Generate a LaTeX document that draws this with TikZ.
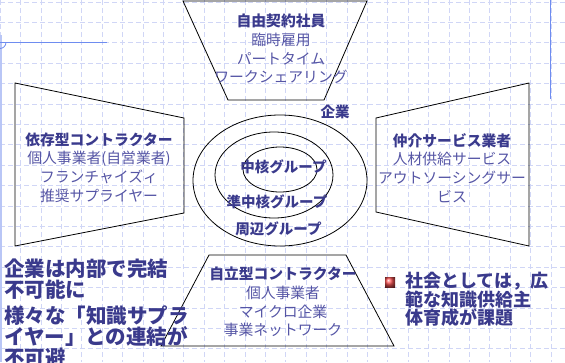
\documentclass[tikz,border=0pt]{standalone}
\usepackage{fontspec}
\setmainfont{Noto Sans CJK JP}
\newfontfamily\heavy{Noto Sans CJK JP}[UprightFont={* Black}]
\definecolor{navy}{RGB}{58,58,140}
\definecolor{regtext}{RGB}{85,85,165}
\definecolor{gridc}{RGB}{208,214,246}
\definecolor{deco}{RGB}{110,140,240}
\definecolor{decolight}{RGB}{185,198,246}
\begin{document}
\begin{tikzpicture}[x=1pt,y=-1pt,
  gridline/.style={draw=gridc,line width=0.6pt,dash pattern=on 5pt off 3pt},
  frame/.style={draw=black,line width=0.8pt},
  blk/.style={align=center,text=regtext,inner sep=0pt,font=\fontsize{14.8}{18.7}\selectfont},
  lbl/.style={text=navy,inner sep=0pt,font=\heavy\fontsize{14.5}{16}\selectfont},
  big/.style={text=navy,inner sep=0pt,align=left,anchor=north west}]
\useasboundingbox (0,0) rectangle (565,362);
% grid
\foreach \i in {0,...,27} \draw[gridline] (\i*20.4,0) -- (\i*20.4,362);
\foreach \j in {0,...,17} \draw[gridline] (0,1.9+\j*20.4) -- (565,1.9+\j*20.4);
% decorations
\draw[decolight,line width=1.5pt] (1,35) -- (1,362);
\draw[deco,line width=1pt] (0,42.3) -- (107,42.3);
\draw[deco,line width=0.8pt] (6,42.3) .. controls (6,46) and (3,48.5) .. (0,48.5);
\draw[deco,line width=1pt] (550.7,0) -- (550.7,99);
% shapes
\draw[frame] (183,1) -- (367,1) -- (324,100) -- (228,100) -- cycle;
\draw[frame] (15,83) -- (184,118) -- (184,213) -- (15,246) -- cycle;
\draw[frame] (376,118) -- (529,83) -- (529,246) -- (376,212) -- cycle;
\draw[frame] (209,255) -- (346,255) -- (394,346) -- (161,346) -- cycle;
\draw[frame] (280,180.5) ellipse [x radius=87,y radius=65.5];
\draw[frame] (274,175) ellipse [x radius=59,y radius=43];
\draw[frame] (280,169.5) ellipse [x radius=37,y radius=22.5];
% block texts
\node[blk] (top) at (281,49) {{\heavy\color{navy}自由契約社員}\\臨時雇用\\パートタイム\\ワークシェアリング};
\node[blk] (left) at (99,167.5) {{\heavy\color{navy}依存型コントラクター}\\個人事業者(自営業者)\\フランチャイズィ\\推奨サプライヤー};
\node[blk] (right) at (452,168) {{\heavy\color{navy}仲介サービス業者}\\人材供給サービス\\アウトソーシングサー\\ビス};
\node[blk] (bottom) at (283,302) {{\heavy\color{navy}自立型コントラクター}\\個人事業者\\マイクロ企業\\事業ネットワーク};
% ellipse labels
\node[lbl] (kigyo) at (335,112) {企業};
\node[lbl] (core) at (283.5,167) {中核グループ};
\node[lbl] (semi) at (277,202) {準中核グループ};
\node[lbl] (peri) at (278.5,228.5) {周辺グループ};
% bottom-left statement
\node[big,font=\heavy\fontsize{20.5}{21}\selectfont] (stmt) at (4,259) {企業は内部で完結\\不可能に\\[5pt]様々な「知識サプラ\\イヤー」との連結が\\不可避};
% bottom-right bullet
\shade[ball color=red!65!white] (385,277) rectangle (395,287);
\node[big,font=\heavy\fontsize{18}{18}\selectfont] (task) at (405,272) {社会としては，広\\範な知識供給主\\体育成が課題};
\end{tikzpicture}
\end{document}
